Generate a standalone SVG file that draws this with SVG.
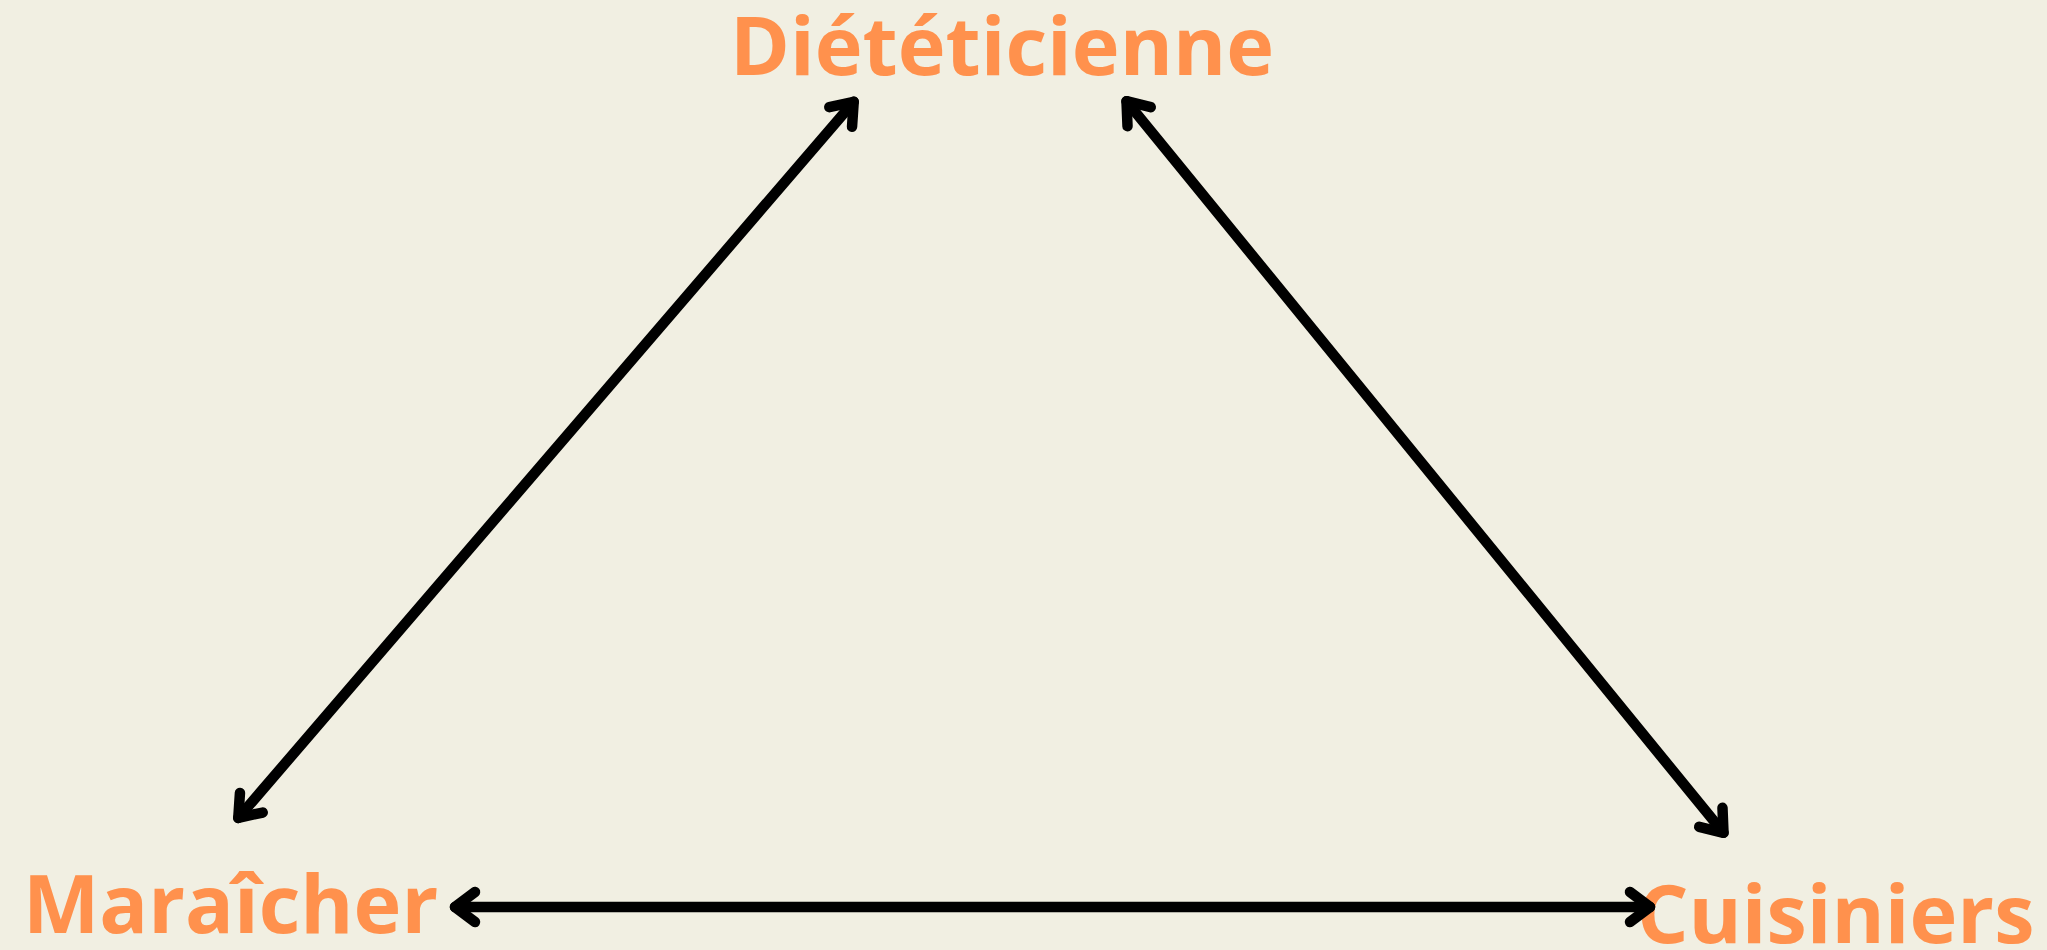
<svg xmlns="http://www.w3.org/2000/svg" width="2047" height="950" viewBox="0 0 2047 950">
  <style>
    .label { font-family: "Open Sans", "Liberation Sans", sans-serif; font-weight: 700; font-size: 81px; fill: #FF914D; }
    .conn { stroke: #000; stroke-width: 10.5; stroke-linecap: round; fill: none; marker-start: url(#head); marker-end: url(#head); }
  </style>
  <defs>
    <marker id="head" markerUnits="userSpaceOnUse" markerWidth="60" markerHeight="60" viewBox="-40 -30 50 60" refX="0" refY="0" orient="auto-start-reverse" overflow="visible">
      <path d="M-20,-15 L0,0 L-20,15" fill="none" stroke="#000" stroke-width="10.5" stroke-linecap="round" stroke-linejoin="round"/>
    </marker>
  </defs>
  <rect width="2047" height="950" fill="#F1EFE2"/>
  <g id="dieteticienne">
    <text class="label" x="730" y="75">Diététicienne</text>
  </g>
  <g id="maraicher">
    <text class="label" x="23" y="933">Maraîcher</text>
  </g>
  <g id="cuisiniers">
    <text class="label" x="1637" y="943">Cuisiniers</text>
  </g>
  <g id="connectors">
    <line class="conn" x1="853.7" y1="101.8" x2="238.3" y2="817.9"/>
    <line class="conn" x1="1126.5" y1="101.2" x2="1723.5" y2="832.8"/>
    <line class="conn" x1="455" y1="907" x2="1650" y2="907"/>
  </g>
</svg>
